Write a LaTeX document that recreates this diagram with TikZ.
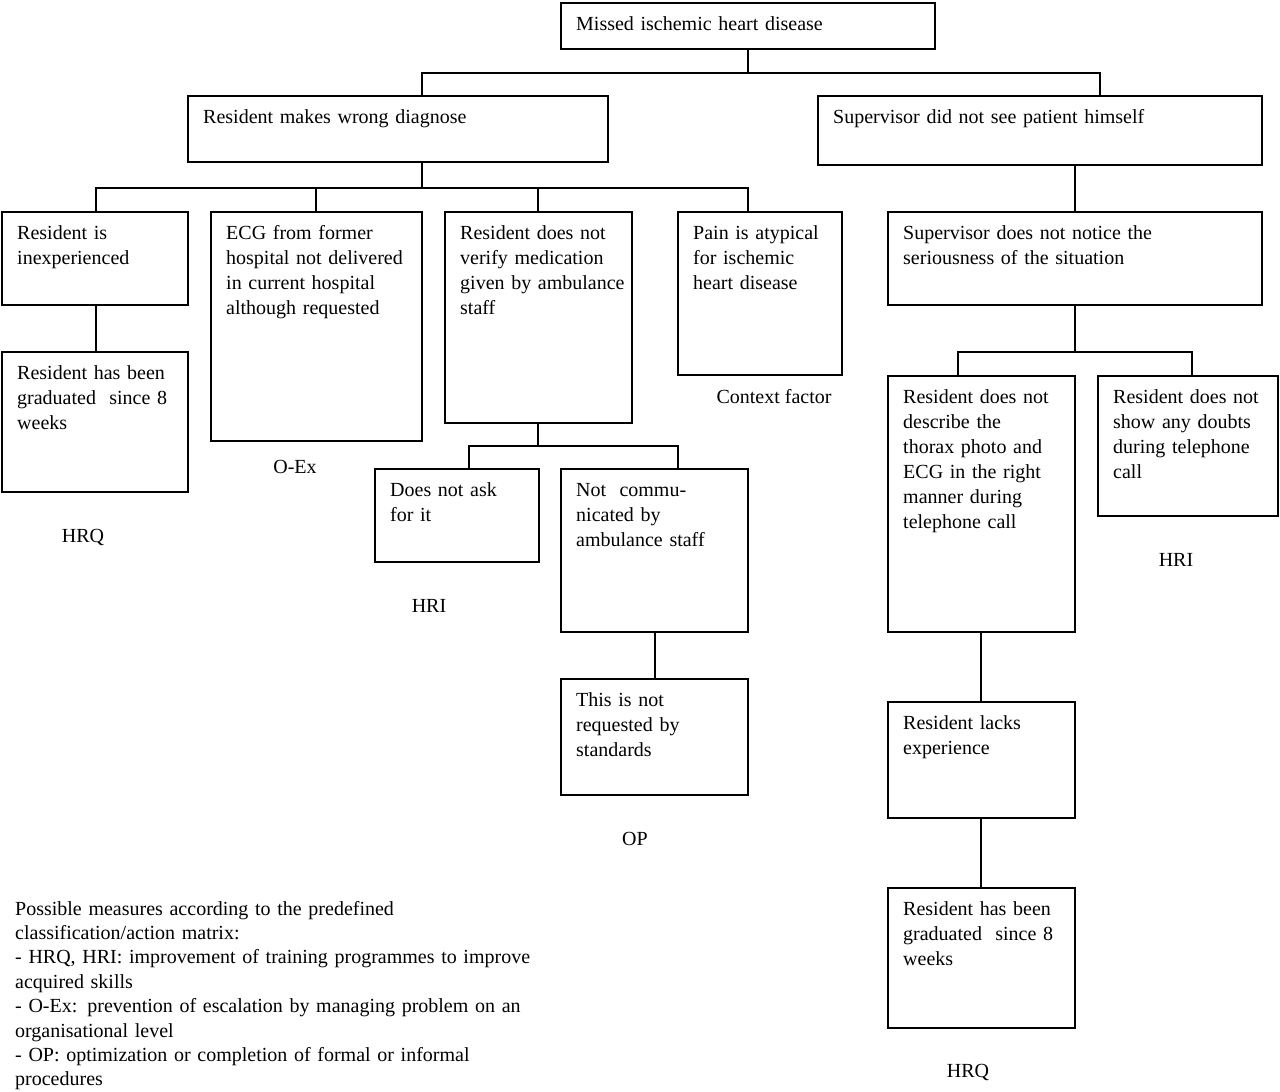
\documentclass[tikz,border=0pt]{standalone}
\usepackage{fontspec}
\setmainfont{Liberation Serif}
\begin{document}
\begin{tikzpicture}[x=1pt,y=-1pt,
  box/.style={draw, line width=1.5pt, rectangle, anchor=north west, inner sep=0pt, outer sep=0pt},
  txt/.style={anchor=base west, inner sep=0pt, align=left, font=\fontsize{20}{25}\selectfont},
  lbl/.style={anchor=base, inner sep=0pt, font=\fontsize{20}{25}\selectfont},
  link/.style={line width=1.5pt}]
\newcommand\mybox[6]{%
  \pgfmathsetmacro\mytw{#4-10}%
  \node[box, minimum width=#4pt, minimum height=#5pt] (#1) at (#2,#3) {};
  \node[txt, text width=\mytw pt] (#1t) at (#2+15,#3+27) {#6};}
\useasboundingbox (0,0) rectangle (1280,1092);
\fill[white] (0,0) rectangle (1280,1092);
% boxes
\mybox{root}{561}{3}{374}{46}{Missed ischemic heart disease}
\mybox{La}{188}{96}{420}{66}{Resident makes wrong diagnose}
\mybox{Lb}{818}{96}{444}{69}{Supervisor did not see patient himself}
\mybox{aa}{2}{212}{186}{93}{Resident is\\inexperienced}
\mybox{aac}{2}{352}{186}{140}{Resident has been\\graduated~ since 8\\weeks}
\mybox{ab}{211}{212}{211}{229}{ECG from former\\hospital not delivered\\in current hospital\\although requested}
\mybox{ac}{445}{212}{187}{211}{Resident does not\\verify medication\\given by ambulance\\staff}
\mybox{ad}{678}{212}{164}{163}{Pain is atypical\\for ischemic\\heart disease}
\mybox{aca}{375}{469}{164}{93}{Does not ask\\for it}
\mybox{acb}{561}{469}{187}{163}{Not~ commu-\\nicated by\\ambulance staff}
\mybox{acbc}{561}{679}{187}{116}{This is not\\requested by\\standards}
\mybox{ba}{888}{212}{374}{93}{Supervisor does not notice the\\seriousness of the situation}
\mybox{baa}{888}{376}{187}{256}{Resident does not\\describe the\\thorax photo and\\ECG in the right\\manner during\\telephone call}
\mybox{bab}{1098}{376}{180}{140}{Resident does not\\show any doubts\\during telephone\\call}
\mybox{baaa}{888}{702}{187}{116}{Resident lacks\\experience}
\mybox{baab}{888}{888}{187}{140}{Resident has been\\graduated~ since 8\\weeks}
% connectors
\draw[link] (root.south) -- (root.south |- 0,73);
\draw[link] (La.north -| 422,0) |- (root.south |- 0,73) -| (Lb.north -| 1100,0);
\draw[link] (La.south -| 422,0) -- ++(0,26);
\draw[link] (aa.north -| 96,0) -- ++(0,-24) -| (ad.north -| 748,0);
\draw[link] (ab.north -| 316,0) -- ++(0,-24);
\draw[link] (ac.north -| 538,0) -- ++(0,-24);
\draw[link] (aa.south -| 96,0) -- (aac.north -| 96,0);
\draw[link] (ac.south -| 538,0) -- ++(0,23);
\draw[link] (aca.north -| 469,0) -- ++(0,-23) -| (acb.north -| 678,0);
\draw[link] (acb.south -| 655,0) -- (acbc.north -| 655,0);
\draw[link] (Lb.south -| 1075,0) -- (ba.north -| 1075,0);
\draw[link] (ba.south -| 1075,0) -- ++(0,47);
\draw[link] (baa.north -| 958,0) -- ++(0,-24) -| (bab.north -| 1192,0);
\draw[link] (baa.south -| 981,0) -- (baaa.north -| 981,0);
\draw[link] (baaa.south -| 981,0) -- (baab.north -| 981,0);
% labels
\node[lbl] (lhrqa) at (83,542) {HRQ};
\node[lbl] (loex) at (295,473) {O-Ex};
\node[lbl] (lctx) at (774,403) {Context factor};
\node[lbl] (lhria) at (429,612) {HRI};
\node[lbl] (lop) at (635,845) {OP};
\node[lbl] (lhrib) at (1176,566) {HRI};
\node[lbl] (lhrqb) at (968,1077) {HRQ};
% legend
\node[txt, text width=600pt, font=\fontsize{20}{24.4}\selectfont] (legend) at (15,915) {Possible measures according to the predefined\\classification/action matrix:\\- HRQ, HRI: improvement of training programmes to improve\\acquired skills\\- O-Ex: prevention of escalation by managing problem on an\\organisational level\\- OP: optimization or completion of formal or informal\\procedures};
\end{tikzpicture}
\end{document}
